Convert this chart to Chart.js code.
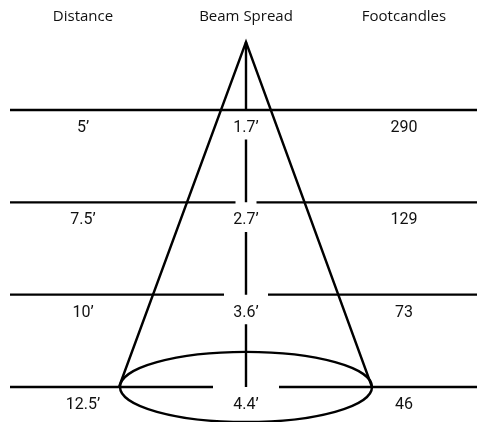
<!DOCTYPE html>
<html>
<head>
<meta charset="utf-8">
<script src="https://cdn.jsdelivr.net/npm/chart.js@4"></script>
<style>
  html, body { margin: 0; padding: 0; background: #fff; }
  #wrap { width: 477px; height: 422px; }
</style>
</head>
<body>
<div id="wrap"><canvas id="beamChart" width="477" height="422"></canvas></div>
<script>
// data
const headers = ['Distance', 'Beam Spread', 'Footcandles'];
const distances = [5, 7.5, 10, 12.5];            // feet, one row each
const distanceLabels = ["5\u2019", "7.5\u2019", "10\u2019", "12.5\u2019"];
const beamSpread = ["1.7\u2019", "2.7\u2019", "3.6\u2019", "4.4\u2019"];
const footcandles = [290, 129, 73, 46];

// layout of the drawing (x in drawing units, y in feet)
const colX = [83, 246, 404];
const centerX = 246;
const lineStart = 10, lineEnd = 477;
const gapHalf = [0, 10.5, 22, 33];
const apexFt = 3.16;
const baseLeft = 119, baseRight = 372;
const ellipseRy = 0.95;   // feet
const headerFt = 2.47;
const labelOffset = 0.49; // feet below each line
const vertGap = 0.8;

const ink = '#000';
const datasets = [];
function seg(points) {
    datasets.push({
        data: points, showLine: true, borderColor: ink, borderWidth: 2.4,
        pointRadius: 0, fill: false, borderCapStyle: 'butt', borderJoinStyle: 'miter'
    });
}

// horizontal row lines
distances.forEach((d, i) => {
    if (gapHalf[i] === 0) {
        seg([{ x: lineStart, y: d }, { x: lineEnd, y: d }]);
    } else {
        seg([{ x: lineStart, y: d }, { x: centerX - gapHalf[i], y: d }]);
        seg([{ x: centerX + gapHalf[i], y: d }, { x: lineEnd, y: d }]);
    }
});

// cone
seg([{ x: baseLeft, y: distances[3] }, { x: centerX, y: apexFt }, { x: baseRight, y: distances[3] }]);

// centre axis, broken under each label
let segTop = apexFt;
distances.forEach((d, i) => {
    seg([{ x: centerX, y: segTop }, { x: centerX, y: d }]);
    segTop = d + vertGap;
});

const overlay = {
    id: 'overlay',
    afterDatasetsDraw(chart) {
        const c = chart.ctx, xs = chart.scales.x, ys = chart.scales.y;
        // beam ellipse at last distance
        const cx = xs.getPixelForValue(centerX), cy = ys.getPixelForValue(distances[3]);
        const rx = xs.getPixelForValue(baseRight) - cx;
        const ry = ys.getPixelForValue(distances[3] + ellipseRy) - cy;
        c.save();
        c.strokeStyle = ink;
        c.lineWidth = 2.4;
        c.beginPath();
        c.ellipse(cx, cy, rx, ry, 0, 0, Math.PI * 2);
        c.stroke();

        c.fillStyle = '#111';
        c.textAlign = 'center';
        c.textBaseline = 'middle';
        c.font = '15px "Open Sans"';
        headers.forEach((h, i) => c.fillText(h, xs.getPixelForValue(colX[i]), ys.getPixelForValue(headerFt)));

        c.font = '16px Roboto';
        distances.forEach((d, i) => {
            const y = ys.getPixelForValue(d + labelOffset);
            c.fillText(distanceLabels[i], xs.getPixelForValue(colX[0]), y);
            c.fillText(beamSpread[i], xs.getPixelForValue(colX[1]), y);
            c.fillText(String(footcandles[i]), xs.getPixelForValue(colX[2]), y);
        });
        c.restore();
    }
};

new Chart(document.getElementById('beamChart'), {
    type: 'scatter',
    data: { datasets },
    options: {
        responsive: false,
        animation: false,
        layout: { padding: 0 },
        plugins: { legend: { display: false }, tooltip: { enabled: false } },
        scales: {
            x: { type: 'linear', display: false, min: 0, max: 477 },
            y: { type: 'linear', display: false, min: 2.021, max: 13.448, reverse: true }
        }
    },
    plugins: [overlay]
});
</script>
</body>
</html>
